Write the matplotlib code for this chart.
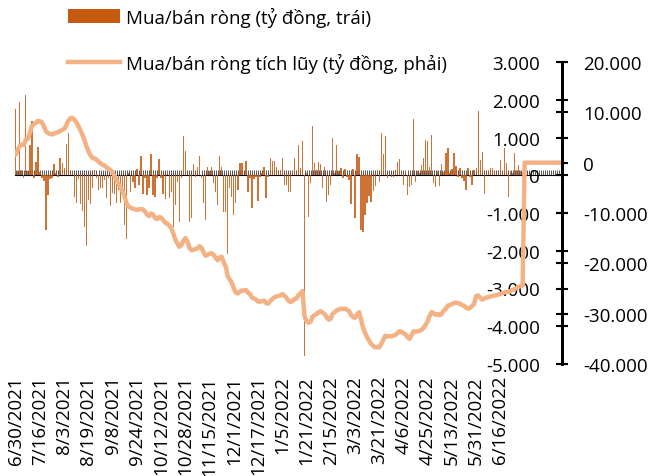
import numpy as np
import matplotlib
matplotlib.use('Agg')
import matplotlib.pyplot as plt
from matplotlib.ticker import MultipleLocator, FuncFormatter
from matplotlib.patches import Patch
from matplotlib.lines import Line2D

plt.rcParams['font.family'] = ['Open Sans', 'DejaVu Sans']

# tick labels on the category axis (one every 12 sessions)
date_labels = ['6/30/2021', '7/16/2021', '8/3/2021', '8/19/2021', '9/8/2021',
               '9/24/2021', '10/12/2021', '10/28/2021', '11/15/2021', '12/1/2021',
               '12/17/2021', '1/5/2022', '1/21/2022', '2/15/2022', '3/3/2022',
               '3/21/2022', '4/6/2022', '4/25/2022', '5/13/2022', '5/31/2022',
               '6/16/2022']
label_step = 12

# daily net buy/sell (ty dong, left axis)
net_flow = [
    1765, 120, 1940, 150, -60, 2120, 100, 800, 1430, -80, 350, 740,
    90, -60, -150, -1455, -520, -100, -60, 290, 60, -40, 450, 320,
    190, 825, 1120, 60, 115, -570, -730, -90, -770, -950, -1365, -1870,
    -660, -770, -345, 140, -80, -390, -350, -345, -120, -610, -80, -810,
    -480, -505, -745, -390, -745, -345, -1320, -1690, 50, -435, -170, -345,
    160, -260, 500, -505, -60, -520, -330, 570, -520, -570, -80, 425,
    -60, -505, -630, 100, -595, -435, -1365, -790, -170, -1235, -60, 1030,
    630, 50, -1235, -1145, 290, -50, 230, 515, -80, -745, -1190, 230,
    115, 210, -210, -435, -790, 500, 230, -965, -965, -2075, -345, -570,
    -1055, -745, -390, 320, 320, 10, 365, -450, -60, -860, -90, -40,
    -680, -50, 50, 230, -610, -40, 450, 380, 380, 230, 80, 140,
    450, -260, -260, -450, -450, 100, 450, 50, 790, 200, 915, -4780,
    50, -1100, -210, 1310, 320, 140, 345, 290, -345, 230, -700, -520,
    -260, 1000, 60, 790, 100, 185, -60, 160, -50, -125, -770, 160,
    -1145, 560, 480, -1455, -1500, -1055, -745, -540, -700, -415, -275, 140,
    -170, 1120, 560, 1030, -80, 60, -35, -50, 140, 345, 425, 60,
    -260, 100, -520, -300, -260, 1500, -185, 100, 60, 275, 450, 940,
    915, 230, 1055, -210, -300, 100, -275, 290, 80, 585, 735, 60,
    170, 585, 255, -40, 185, -60, -150, -390, 200, -35, -260, 140,
    185, 1710, 410, 610, -505, 50, 100, 185, 200, 115, 30, 60,
    410, 115, 720, 320, -570, 100, 60, 600, 140, 275, 115, 60,
]

# cumulative net buy/sell (ty dong, right axis)
cum_flow = [
    1600, 2600, 3300, 3600, 3500, 4600, 4700, 5900, 7300, 7600, 7900, 8300,
    8200, 8000, 7200, 6200, 5900, 5700, 5600, 5800, 5900, 6050, 6300, 6500,
    6700, 7400, 8300, 8800, 8900, 8600, 8000, 7300, 6500, 5600, 4500, 3300,
    2300, 1500, 950, 850, 600, 200, -100, -400, -600, -900, -1200, -1500,
    -2000, -2700, -3600, -4300, -5000, -5800, -6800, -8200, -8700, -9000, -9100, -9300,
    -9350, -9300, -9200, -9300, -9700, -10300, -10600, -10100, -10300, -11000, -11200, -10800,
    -10900, -11400, -11900, -12100, -12500, -13000, -14000, -15300, -16000, -16700, -16400, -15500,
    -15000, -15600, -16900, -17400, -17300, -17200, -17000, -16600, -16900, -17800, -18500, -18300,
    -18100, -18000, -18300, -18900, -19400, -18800, -18700, -19800, -20600, -22600, -23200, -23900,
    -25000, -25800, -26000, -25600, -25400, -25400, -25300, -25800, -26100, -26800, -27000, -27200,
    -27600, -27600, -27500, -27400, -27900, -28000, -27500, -27100, -26800, -26600, -26500, -26400,
    -26100, -26400, -26800, -27400, -27700, -27500, -27100, -27000, -26300, -26000, -25500, -30500,
    -31500, -31800, -31600, -30600, -30300, -30100, -29700, -29500, -29800, -30100, -30700, -31200,
    -31000, -30000, -29700, -29300, -29200, -29000, -29100, -29000, -29200, -29500, -30200, -30700,
    -30800, -30200, -29700, -31200, -32800, -33800, -34700, -35400, -36000, -36400, -36700, -36600,
    -36700, -36000, -35200, -34400, -34500, -34500, -34500, -34400, -34200, -33900, -33500, -33600,
    -33900, -34100, -34700, -35000, -34300, -33500, -33600, -33500, -33400, -33200, -32800, -32200,
    -31500, -30400, -29700, -29900, -30200, -30100, -30300, -30000, -29400, -29000, -28400, -28300,
    -28100, -27900, -27800, -27900, -28000, -28300, -28400, -28800, -29000, -28800, -28500, -28000,
    -26500, -26400, -26800, -27200, -27000, -26800, -26700, -26600, -26500, -26400, -26300, -26200,
    -26100, -25900, -25800, -25700, -25700, -25500, -25300, -25100, -24900, -24700, -24500, -24400,
]
# empty trailing cells that Excel plotted as zero
cum_tail = [0] * 19

bar_color = '#C55A11'
line_color = '#F4B183'

fig = plt.figure(figsize=(6.54, 4.77), dpi=100)
ax = fig.add_axes([14.7 / 654, 1 - 365 / 477, (562 - 14.7) / 654, (365 - 63) / 477])

n_cat = len(cum_flow) + len(cum_tail)
x_bar = np.arange(len(net_flow))
x_line = np.arange(n_cat)

ax.bar(x_bar, net_flow, width=0.65, color=bar_color, linewidth=0, alpha=0.85)
ax.set_xlim(-0.5, n_cat - 0.5)
ax.set_ylim(-5000, 3000)

fmt = FuncFormatter(lambda v, p: f'{v:,.0f}'.replace(',', '.'))

# left (bar) axis drawn at the right edge, labels on its left side
for s in ['top', 'right', 'bottom']:
    ax.spines[s].set_visible(False)
ax.spines['left'].set_position(('axes', 1.0))
ax.spines['left'].set_linewidth(2)
ax.yaxis.set_major_locator(MultipleLocator(1000))
ax.yaxis.set_major_formatter(fmt)
ax.tick_params(axis='y', direction='inout', length=8, width=1.5, pad=12,
               labelsize=13.5, colors='black')

# category labels at the bottom
ax.set_xticks([k * label_step for k in range(len(date_labels))])
ax.set_xticklabels(date_labels, rotation=90)
ax.tick_params(axis='x', length=0, pad=8, labelsize=13.5)

# zero line with a tick for every category
zero_frac = (0 - (-5000)) / 8000
sec = ax.secondary_xaxis(zero_frac)
sec.spines['bottom'].set_linewidth(1.5)
sec.spines['bottom'].set_color('#222222')
sec.xaxis.set_major_locator(MultipleLocator(1))
sec.tick_params(axis='x', direction='out', length=3.5, width=0.7, color='#555555',
                labelbottom=False, labeltop=False)

# cumulative line on the right axis
ax2 = ax.twinx()
ax2.plot(x_line, cum_flow + cum_tail, color=line_color, linewidth=3.2,
         solid_joinstyle='round', solid_capstyle='round')
ax2.set_ylim(-40000, 20000)
for s in ['top', 'left', 'bottom']:
    ax2.spines[s].set_visible(False)
ax2.spines['right'].set_linewidth(2)
ax2.yaxis.set_major_locator(MultipleLocator(10000))
ax2.yaxis.set_major_formatter(fmt)
ax2.tick_params(axis='y', direction='inout', length=8, width=1.5, pad=11,
                labelsize=13.5, colors='black')

handles = [Patch(facecolor=bar_color, edgecolor='none'),
           Line2D([0], [0], color=line_color, linewidth=3.2)]
labels = ['Mua/bán ròng (tỷ đồng, trái)', 'Mua/bán ròng tích lũy (tỷ đồng, phải)']
fig.legend(handles, labels, loc='upper left', bbox_to_anchor=(60 / 654, 1.0),
           frameon=False, fontsize=13.5, handlelength=2.8, handletextpad=0.3,
           labelspacing=1.4, borderaxespad=0.0)

fig.savefig('out.png', dpi=100)
